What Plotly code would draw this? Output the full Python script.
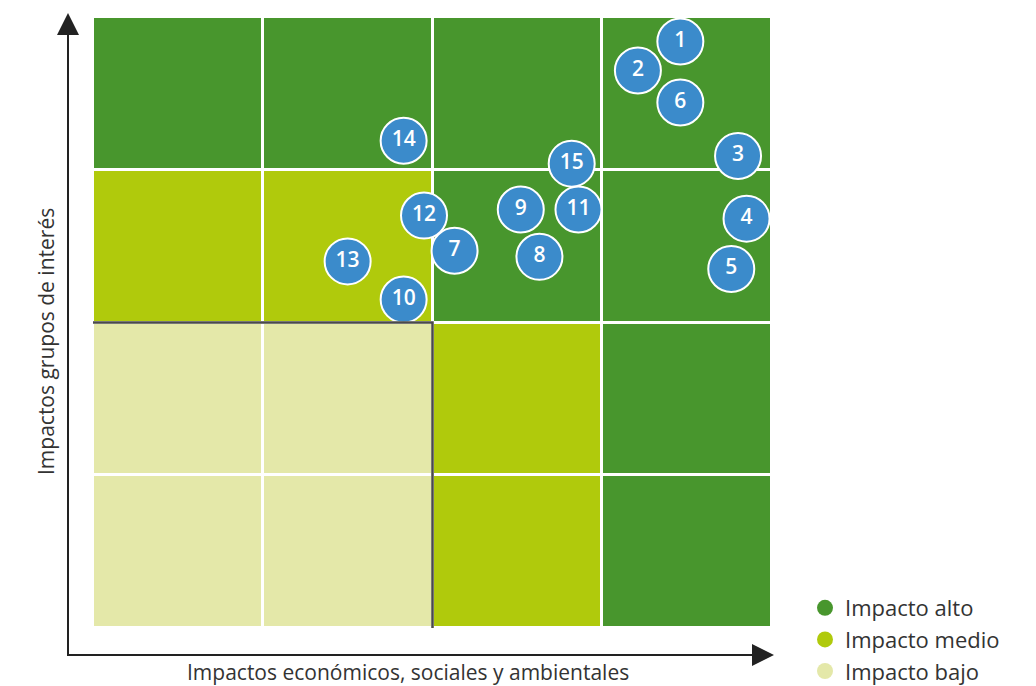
import plotly.graph_objects as go

# matrix zones (rows bottom -> top, cols left -> right): 0 bajo, 1 medio, 2 alto
zone_rows = [
    [0, 0, 1, 2],
    [0, 0, 1, 2],
    [1, 1, 2, 2],
    [2, 2, 2, 2],
]
cell_centers = [0.5, 1.5, 2.5, 3.5]

# material topics: economic/social/environmental impact (x) vs stakeholder impact (y)
labels = ["1", "2", "6", "3", "4", "5", "14", "15", "9", "11", "12", "7", "8", "13", "10"]
x_vals = [3.46, 3.21, 3.46, 3.80, 3.85, 3.76, 1.83, 2.82, 2.52, 2.86, 1.95, 2.13, 2.63, 1.50, 1.83]
y_vals = [3.84, 3.65, 3.44, 3.09, 2.68, 2.35, 3.19, 3.04, 2.74, 2.74, 2.70, 2.47, 2.43, 2.40, 2.15]

legend_names = ["Impacto alto", "Impacto medio", "Impacto bajo"]
legend_colors = ["#48962D", "#B0CA0C", "#E4E8A9"]

DARK, MID, LIGHT = legend_colors
BLUE = "#3B8BCB"
FONT = "Open Sans"

fig = go.Figure()

fig.add_trace(go.Heatmap(
    z=zone_rows, x=cell_centers, y=cell_centers,
    zmin=0, zmax=2,
    colorscale=[[0, LIGHT], [0.333, LIGHT], [0.334, MID], [0.666, MID], [0.667, DARK], [1, DARK]],
    showscale=False, xgap=3, ygap=3, hoverinfo="skip",
))

fig.add_trace(go.Scatter(
    x=x_vals, y=y_vals, text=labels, mode="markers+text",
    marker=dict(size=46, color=BLUE, line=dict(color="white", width=2)),
    textfont=dict(family=FONT, size=21, color="white", weight=600),
    textposition="middle center", cliponaxis=False, showlegend=False,
))

for name, col in zip(legend_names, legend_colors):
    fig.add_trace(go.Scatter(x=[None], y=[None], mode="markers", name=name,
                             marker=dict(size=18, color=col)))

# boundary of the low-impact zone
fig.add_shape(type="path", path="M 0,2 L 2,2 L 2,0", xref="x", yref="y",
              line=dict(color="#4A4A4A", width=2.5), layer="above")

# axis arrows (paper coordinates, outside the grid)
def px_x(p):
    return (p - 93) / 679

def px_y(p):
    return (628 - p) / 611

ax_col = "#222222"
fig.add_shape(type="path", xref="paper", yref="paper",
              path=f"M {px_x(68)},{px_y(33)} L {px_x(68)},{px_y(655)} L {px_x(755)},{px_y(655)}",
              line=dict(color=ax_col, width=2))
fig.add_shape(type="path", xref="paper", yref="paper",
              path=f"M {px_x(68)},{px_y(13)} L {px_x(57)},{px_y(35)} L {px_x(79)},{px_y(35)} Z",
              fillcolor=ax_col, line=dict(width=0))
fig.add_shape(type="path", xref="paper", yref="paper",
              path=f"M {px_x(774)},{px_y(655)} L {px_x(752)},{px_y(644)} L {px_x(752)},{px_y(666)} Z",
              fillcolor=ax_col, line=dict(width=0))

fig.add_annotation(text="Impactos económicos, sociales y ambientales",
                   x=px_x(408), y=px_y(672), xref="paper", yref="paper",
                   xanchor="center", yanchor="middle",
                   showarrow=False, font=dict(family=FONT, size=21, color="#333333"))
fig.add_annotation(text="Impactos grupos de interés", textangle=-90,
                   x=px_x(46), y=px_y(342), xref="paper", yref="paper",
                   xanchor="center", yanchor="middle",
                   showarrow=False, font=dict(family=FONT, size=21, color="#333333"))

fig.update_xaxes(range=[0, 4], showgrid=False, zeroline=False, showticklabels=False, fixedrange=True)
fig.update_yaxes(range=[0, 4], showgrid=False, zeroline=False, showticklabels=False, fixedrange=True)

# page body adds an 8px offset, so the figure is shrunk and margins shifted by 8
fig.update_layout(
    width=1028, height=678,
    margin=dict(l=85, r=264, t=9, b=58, autoexpand=False),
    paper_bgcolor="white", plot_bgcolor="white",
    legend=dict(x=px_x(805), y=px_y(587), xanchor="left", yanchor="top",
                font=dict(family=FONT, size=22, color="#333333"),
                itemsizing="trace", tracegroupgap=0, bgcolor="rgba(0,0,0,0)"),
)

fig.write_html("out.html")
